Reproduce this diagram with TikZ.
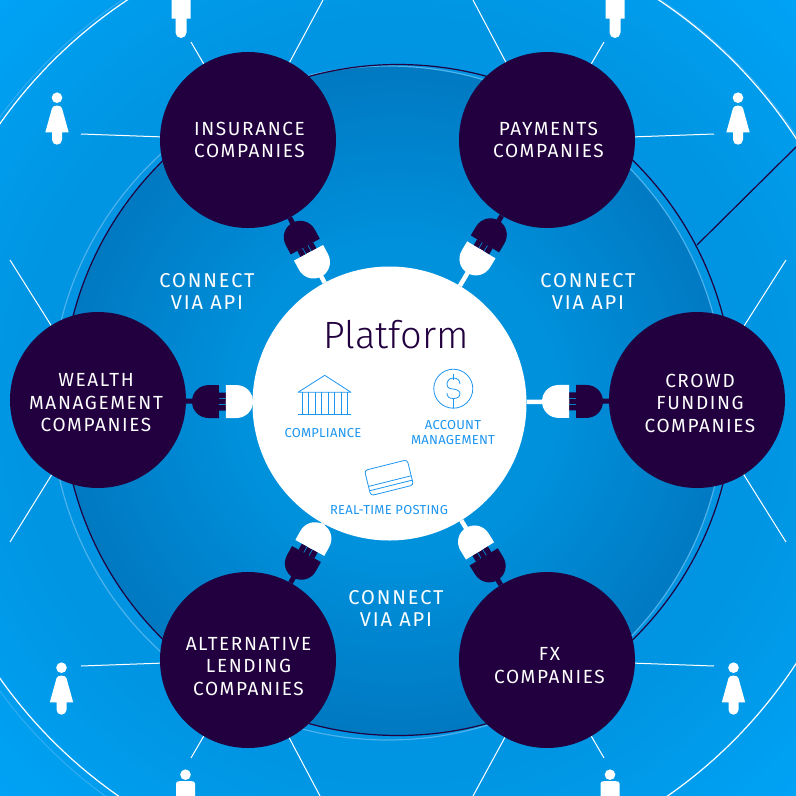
\documentclass[tikz,border=0pt]{standalone}
\usepackage{fontspec}
\usetikzlibrary{calc}
\setmainfont{Fira Sans}
\newfontfamily\capsfont[LetterSpace=8.5]{Fira Sans}
\newfontfamily\connectfont[LetterSpace=9.5]{Fira Sans}
\newfontfamily\smallcaps[LetterSpace=2]{Fira Sans}
\newfontfamily\titlefont{Fira Sans Light}
\definecolor{navy}{HTML}{22003F}
\definecolor{iconblue}{HTML}{1E96F0}
\definecolor{ringlight}{HTML}{4DB2EC}
\definecolor{ringfaint}{HTML}{33ACF2}
\definecolor{bgin}{HTML}{0090DC}
\definecolor{bgmid}{HTML}{0096E4}
\definecolor{bgout}{HTML}{00A3F6}
\definecolor{dkin}{HTML}{0092DE}
\definecolor{dkout}{HTML}{0079C1}
\tikzset{
  company/.style={circle,fill=navy,minimum size=176pt,inner sep=0pt},
  companytext/.style={text=white,align=center,font=\capsfont\fontsize{19}{22.5}\selectfont},
  connecttext/.style={text=white,align=center,font=\connectfont\fontsize{20}{22}\selectfont},
  icontext/.style={text=iconblue,align=center,font=\smallcaps\fontsize{13}{15}\selectfont},
  spoke/.style={white,line width=1pt},
  iconline/.style={iconblue,line width=0.8pt},
  navywire/.style={navy,line width=5pt},
  whitewire/.style={white,line width=4.5pt}
}
\newcommand{\plugshape}[2]{%
  \begin{scope}[shift={(#1)},rotate=#2]
    \fill[navy] (-7,-16.5) -- (-7,16.5) -- (-17,16.5) .. controls (-27,16.5) and (-34,9) .. (-34,0) .. controls (-34,-9) and (-27,-16.5) .. (-17,-16.5) -- cycle;
    \fill[navy] (-7,-9) rectangle (0,-3.5) (-7,3.5) rectangle (0,9);
    \fill[white] (0,-16.5) -- (0,16.5) -- (10,16.5) .. controls (20,16.5) and (27,9) .. (27,0) .. controls (27,-9) and (20,-16.5) .. (10,-16.5) -- cycle;
  \end{scope}}
\newcommand{\womanfig}[2]{%
  \fill[white] (#1,#2) circle (5.3);
  \fill[white] ($(#1,#2)+(-5,10.5)$) .. controls ($(#1,#2)+(-3.5,7)$) and ($(#1,#2)+(3.5,7)$) .. ($(#1,#2)+(5,10.5)$) -- ($(#1,#2)+(11.7,34.7)$) -- ($(#1,#2)+(5,34.7)$) -- ($(#1,#2)+(5,42)$) arc[start angle=0,end angle=180,radius=5] -- ($(#1,#2)+(-5,34.7)$) -- ($(#1,#2)+(-11.7,34.7)$) -- cycle;}
\newcommand{\manfig}[2]{%
  \fill[white] (#1,#2) circle (5.3);
  \fill[white] ($(#1,#2)+(-9.5,9)$) .. controls ($(#1,#2)+(-9.5,7)$) and ($(#1,#2)+(-8,6.5)$) .. ($(#1,#2)+(-6,6.5)$) -- ($(#1,#2)+(6,6.5)$) .. controls ($(#1,#2)+(8,6.5)$) and ($(#1,#2)+(9.5,7)$) .. ($(#1,#2)+(9.5,9)$) -- ($(#1,#2)+(9.5,27.7)$) -- ($(#1,#2)+(5.5,27.7)$) -- ($(#1,#2)+(5.5,41.5)$) arc[start angle=0,end angle=180,radius=5.5] -- ($(#1,#2)+(-5.5,27.7)$) -- ($(#1,#2)+(-9.5,27.7)$) -- cycle;}
\begin{document}
\begin{tikzpicture}[x=1pt,y=-1pt]
\clip (0,0) rectangle (796,796);
% background gradient as concentric discs
\fill[bgout] (0,0) rectangle (796,796);
\foreach \rr in {570,560,...,400}{
  \pgfmathsetmacro\tt{(\rr-400)/170*100}
  \fill[bgout!\tt!bgmid] (398,400) circle (\rr);
}
\foreach \rr in {395,385,...,200}{
  \pgfmathsetmacro\tt{(\rr-200)/200*100}
  \fill[bgmid!\tt!bgin] (398,400) circle (\rr);
}
\begin{scope}
  \clip (388,403) circle (337);
  \foreach \rr in {335.5,330,...,150}{
    \pgfmathsetmacro\tt{(\rr-150)/185.5*100}
    \fill[dkout!\tt!dkin] (398,400) circle (\rr);
  }
\end{scope}
\draw[ringlight,line width=1.2pt] (388,403) circle (337);
\draw[navy,line width=1.2pt] (398,400) circle (335.5);
\draw[ringfaint,line width=1pt] (391.6,404) ++(120:485.5) arc[start angle=120,end angle=340,radius=485.5];
\draw[white,line width=1.2pt] (393,401) circle (481);
\coordinate (navyA) at (697,245);
\coordinate (navyB) at (796,147);
\draw[navy,line width=1.2pt] (navyA) -- (navyB);
% companies and platform
\node[company] (ins) at (248,140) {};
\node[company] (pay) at (547,140) {};
\node[company] (cro) at (697,400) {};
\node[company] (fxc) at (547,660) {};
\node[company] (alt) at (248,660) {};
\node[company] (wea) at (98,400) {};
\node[circle,fill=white,minimum size=274pt,inner sep=0pt] (plat) at (389.5,403.5) {};
\node[companytext] (insT) at (249.5,140) {INSURANCE\\COMPANIES};
\node[companytext] (payT) at (548.5,140) {PAYMENTS\\COMPANIES};
\node[companytext] (croT) at (700,403) {CROWD\\FUNDING\\COMPANIES};
\node[companytext] (fxcT) at (549.5,665.5) {FX\\COMPANIES};
\node[companytext] (altT) at (248.5,666.5) {ALTERNATIVE\\LENDING\\COMPANIES};
\node[companytext] (weaT) at (96,403) {WEALTH\\MANAGEMENT\\COMPANIES};
% spokes
\foreach \nm/\px/\py in {a1/191/42,a2/81/134,a3/323/0,b1/604/42,b2/714/134,b3/473/0,
  c1/10/260,c2/10/542,d1/786/260,d2/786/542,e1/81/666,e2/191/758,e3/320/796,f1/714/666,f2/604/758,f3/473/796}
  \coordinate (\nm) at (\px,\py);
\draw[spoke] (ins) -- (a1); \draw[spoke] (ins) -- (a2); \draw[spoke] (ins) -- (a3);
\draw[spoke] (pay) -- (b1); \draw[spoke] (pay) -- (b2); \draw[spoke] (pay) -- (b3);
\draw[spoke] (wea) -- (c1); \draw[spoke] (wea) -- (c2);
\draw[spoke] (cro) -- (d1); \draw[spoke] (cro) -- (d2);
\draw[spoke] (alt) -- (e1); \draw[spoke] (alt) -- (e2); \draw[spoke] (alt) -- (e3);
\draw[spoke] (fxc) -- (f1); \draw[spoke] (fxc) -- (f2); \draw[spoke] (fxc) -- (f3);
% plugs
\coordinate (pi) at ($(ins)!128pt!(plat)$);
\coordinate (pp) at ($(pay)!128pt!(plat)$);
\coordinate (pc) at ($(cro)!128pt!(plat)$);
\coordinate (pf) at ($(fxc)!128pt!(plat)$);
\coordinate (pl) at ($(alt)!128pt!(plat)$);
\coordinate (pw) at ($(wea)!128pt!(plat)$);
\draw[navywire] (ins) -- (pi); \draw[whitewire] (pi) -- (plat);
\draw[navywire] (pay) -- (pp); \draw[whitewire] (pp) -- (plat);
\draw[navywire] (cro) -- (pc); \draw[whitewire] (pc) -- (plat);
\draw[navywire] (fxc) -- (pf); \draw[whitewire] (pf) -- (plat);
\draw[navywire] (alt) -- (pl); \draw[whitewire] (pl) -- (plat);
\draw[navywire] (wea) -- (pw); \draw[whitewire] (pw) -- (plat);
\plugshape{pi}{-61.8}
\plugshape{pp}{-120.9}
\plugshape{pc}{180}
\plugshape{pf}{121.6}
\plugshape{pl}{61.1}
\plugshape{pw}{0}
% persons
\womanfig{57}{97.7}
\womanfig{738}{97.7}
\womanfig{61.5}{667.7}
\womanfig{733.5}{667.7}
\manfig{181}{-9}
\manfig{615}{-9}
\manfig{185.5}{774.7}
\manfig{610}{774.7}
% labels
\node[connecttext] (t1) at (207,291) {CONNECT\\VIA API};
\node[connecttext] (t2) at (588,291) {CONNECT\\VIA API};
\node[connecttext] (t3) at (396,608) {CONNECT\\VIA API};
\node[text=navy,font=\titlefont\fontsize{38}{40}\selectfont] (ptitle) at (396,335) {Platform};
\node[icontext] (l1) at (323,433) {COMPLIANCE};
\node[icontext] (l2) at (453,433) {ACCOUNT\\MANAGEMENT};
\node[icontext] (l3) at (389,510) {REAL-TIME POSTING};
% bank icon
\draw[iconline,line join=round] (298,392.3) -- (324.7,375.3) -- (351,392.3) -- cycle;
\draw[iconline] (298,414.3) -- (351,414.3);
\foreach \cx in {302.3,308.3,315,321,328.3,334.3,341.7,347.3}
  \draw[iconline,line width=0.6pt] (\cx,392.3) -- (\cx,414.3);
% dollar icon
\draw[iconline] (453.3,388.7) circle (19.5);
\draw[iconline] (453.3,374) -- (453.3,379.5);
\draw[iconline] (453.3,398) -- (453.3,408.2);
\draw[iconline] (460,384) .. controls (460,380) and (457,378) .. (453.3,378) .. controls (449,378) and (447,381.5) .. (447,384) .. controls (447,388) and (450,389) .. (453.3,389) .. controls (457,389.5) and (460,391) .. (460,393.5) .. controls (460,397) and (457,398.5) .. (453.3,398.5) .. controls (449,398.5) and (447,396.5) .. (447,393);
% card icon
\begin{scope}[shift={(389,477.7)},rotate=14]
  \draw[iconline,rounded corners=3pt] (-22,-13) rectangle (22,13);
  \draw[iconline] (-22,3.5) -- (22,3.5);
  \draw[iconline] (-22,8) -- (22,8);
\end{scope}
\end{tikzpicture}
\end{document}
